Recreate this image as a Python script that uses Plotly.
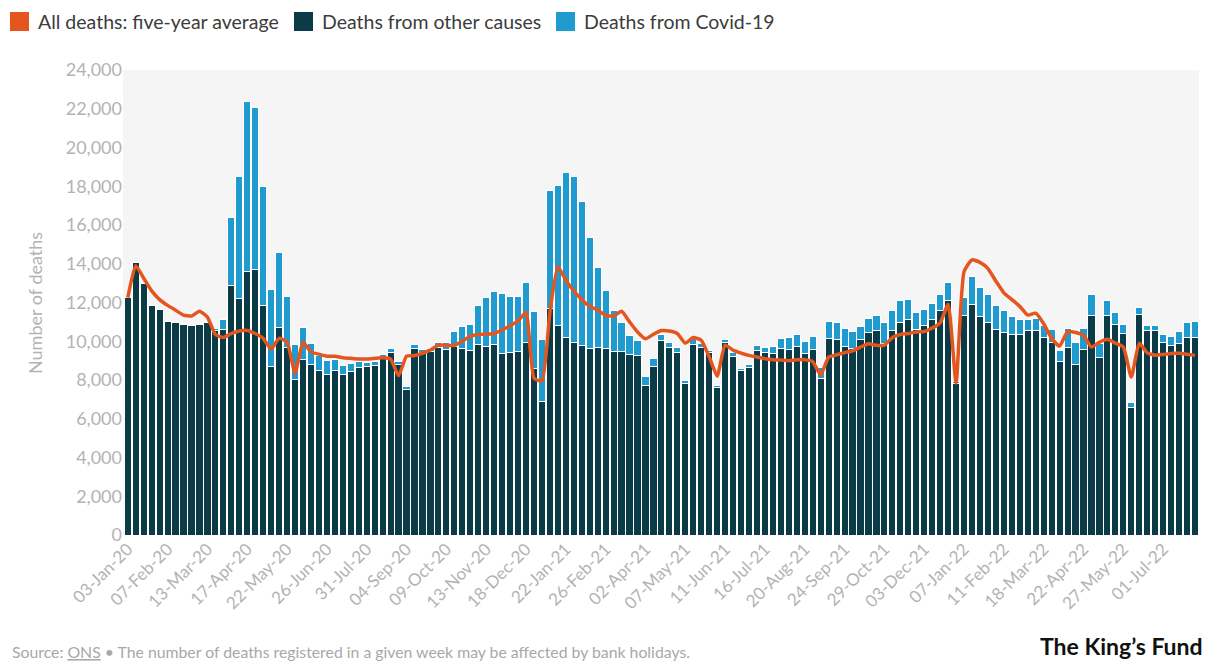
import pandas as pd
import plotly.graph_objects as go

# Weekly registrations, England and Wales, week ending 03-Jan-20 onwards
WEEK_ENDING = pd.date_range("2020-01-03", periods=135, freq="7D").strftime("%d-%b-%y").tolist()

TICK_LABELS = [
    "03-Jan-20", "07-Feb-20", "13-Mar-20", "17-Apr-20", "22-May-20", "26-Jun-20",
    "31-Jul-20", "04-Sep-20", "09-Oct-20", "13-Nov-20", "18-Dec-20", "22-Jan-21",
    "26-Feb-21", "02-Apr-21", "07-May-21", "11-Jun-21", "16-Jul-21", "20-Aug-21",
    "24-Sep-21", "29-Oct-21", "03-Dec-21", "07-Jan-22", "11-Feb-22", "18-Mar-22",
    "22-Apr-22", "27-May-22", "01-Jul-22",
]

OTHER_CAUSES = [
    12250, 14070, 12980, 11860, 11620, 11000, 10960, 10860, 10820, 10890,
    10960, 10550, 10600, 12870, 12230, 13590, 13720, 11860, 8720, 10720,
    9700, 8020, 9070, 8820, 8510, 8300, 8500, 8290, 8460, 8660,
    8700, 8750, 9170, 9430, 8800, 7520, 9640, 9410, 9490, 9660,
    9550, 9750, 9640, 9500, 9840, 9740, 9810, 9380, 9430, 9470,
    9940, 8590, 6890, 11680, 10790, 10190, 9960, 9800, 9650, 9700,
    9620, 9470, 9450, 9340, 9250, 7740, 8690, 10040, 9680, 9440,
    7800, 9810, 9680, 9440, 7600, 9950, 9230, 8490, 8660, 9510,
    9430, 9370, 9650, 9600, 9720, 9380, 9570, 8060, 10120, 10110,
    9740, 9640, 10100, 10450, 10530, 9880, 10530, 10980, 11100, 10630,
    10790, 11140, 11600, 12120, 7820, 11310, 11910, 11270, 10960, 10620,
    10450, 10360, 10360, 10530, 10530, 10190, 9930, 8930, 9670, 8810,
    9580, 11310, 9150, 11310, 10880, 10410, 6560, 11400, 10570, 10570,
    9960, 9760, 9880, 10190, 10190,
]

COVID = [
    0, 0, 0, 0, 0, 0, 0, 0, 0, 0,
    0, 100, 540, 3530, 6290, 8810, 8330, 6130, 3930, 3870,
    2600, 1820, 1650, 1080, 750, 700, 540, 440, 380, 280,
    200, 200, 170, 180, 150, 130, 190, 150, 150, 280,
    380, 770, 1100, 1380, 1990, 2520, 2740, 3070, 2860, 2830,
    3080, 2960, 3190, 6100, 7270, 8510, 8520, 7420, 5720, 4110,
    2980, 2100, 1530, 970, 780, 460, 410, 320, 250, 250,
    150, 320, 180, 100, 140, 140, 180, 110, 140, 250,
    270, 350, 470, 570, 640, 630, 670, 570, 880, 880,
    920, 850, 670, 710, 780, 1100, 1040, 1110, 1030, 870,
    860, 830, 800, 920, 120, 950, 1420, 1510, 1440, 1240,
    1120, 910, 780, 610, 640, 600, 690, 570, 980, 1120,
    1070, 1120, 740, 780, 600, 470, 260, 340, 260, 260,
    400, 460, 600, 770, 810,
]

FIVE_YEAR_AVERAGE = [
    12250, 13900, 13250, 12600, 12150, 11850, 11600, 11350, 11300, 11550,
    11250, 10350, 10200, 10400, 10530, 10560, 10400, 10150, 9600, 10150,
    9950, 8350, 9950, 9450, 9330, 9230, 9230, 9150, 9120, 9090,
    9090, 9120, 9150, 9080, 8220, 9230, 9260, 9380, 9550, 9800,
    9790, 9780, 10000, 10250, 10350, 10360, 10400, 10580, 10800, 11050,
    11480, 8100, 7950, 11500, 13850, 13150, 12600, 12150, 11800, 11620,
    11330, 11300, 11550, 11000, 10480, 10130, 10360, 10550, 10530, 10400,
    9900, 10190, 10050, 9200, 8200, 9800, 9540, 9390, 9270, 9190,
    9100, 9050, 9030, 9000, 9040, 9050, 8950, 8260, 9180, 9300,
    9410, 9510, 9700, 9870, 9790, 9800, 10190, 10350, 10400, 10480,
    10500, 10680, 10950, 11900, 7850, 13600, 14200, 14070, 13750, 13100,
    12500, 12150, 11800, 11350, 11450, 10900, 10150, 9750, 10500, 10450,
    10300, 9700, 9950, 10100, 9900, 9700, 8150, 9900, 9400, 9280,
    9320, 9370, 9380, 9330, 9270,
]

ORANGE = "#e4561e"
DARK = "#0b3b47"
BLUE = "#1f9bd0"
GREY_TEXT = "#b3b3b3"
FONT = "Source Sans Pro, Lato, sans-serif"

W, H = 1209, 661
L, R, T, B = 123, 10, 70, 126
PW, PH = W - L - R, H - T - B


def px(x):
    return (x - L) / PW


def py(y):
    return (H - B - y) / PH


fig = go.Figure()
fig.add_trace(go.Bar(
    x=WEEK_ENDING, y=OTHER_CAUSES, name="Deaths from other causes",
    marker=dict(color=DARK, line=dict(color="white", width=1)),
    showlegend=False, hoverinfo="skip",
))
fig.add_trace(go.Bar(
    x=WEEK_ENDING, y=COVID, name="Deaths from Covid-19",
    marker=dict(color=BLUE, line=dict(color="white", width=1)),
    showlegend=False, hoverinfo="skip",
))
fig.add_trace(go.Scatter(
    x=WEEK_ENDING, y=FIVE_YEAR_AVERAGE, name="All deaths: five-year average",
    mode="lines", line=dict(color=ORANGE, width=3.5, shape="spline", smoothing=0.5),
    showlegend=False, hoverinfo="skip",
))

# legend row across the top
legend_items = [
    (10, ORANGE, "All deaths: five-year average"),
    (294, DARK, "Deaths from other causes"),
    (556, BLUE, "Deaths from Covid-19"),
]
shapes = []
annotations = []
for x0, colour, label in legend_items:
    shapes.append(dict(type="rect", xref="paper", yref="paper",
                       x0=px(x0), x1=px(x0 + 19), y0=py(31), y1=py(12),
                       fillcolor=colour, line=dict(width=0)))
    annotations.append(dict(text=label, xref="paper", yref="paper",
                            x=px(x0 + 26), y=py(21.5), xanchor="left", yanchor="middle",
                            showarrow=False, font=dict(family=FONT, size=19.5, color="#3c3c3c")))

annotations += [
    dict(text="Number of deaths", xref="paper", yref="paper", x=px(35), y=py(303),
         textangle=-90, xanchor="center", yanchor="middle", showarrow=False,
         font=dict(family=FONT, size=18, color=GREY_TEXT)),
    dict(text="Source: <u>ONS</u> \u2022 The number of deaths registered in a given week may be affected by bank holidays.",
         xref="paper", yref="paper", x=px(10), y=py(652), xanchor="left", yanchor="middle",
         showarrow=False, font=dict(family=FONT, size=15.8, color="#a8a8a8")),
    dict(text="<b>The King\u2019s Fund</b>", xref="paper", yref="paper", x=px(1205), y=py(646),
         xanchor="right", yanchor="middle", showarrow=False,
         font=dict(family=FONT, size=23, color="#111111")),
]

fig.update_layout(
    width=W, height=H,
    margin=dict(l=L, r=R, t=T, b=B),
    barmode="stack", bargap=0.1,
    plot_bgcolor="#f5f5f5", paper_bgcolor="white",
    shapes=shapes, annotations=annotations,
    font=dict(family=FONT),
    xaxis=dict(type="category", tickmode="array", tickvals=TICK_LABELS, ticktext=TICK_LABELS,
               tickangle=-45, tickfont=dict(size=17, color=GREY_TEXT),
               showgrid=False, showline=False, zeroline=False, ticks="",
               range=[-0.6, 134.5]),
    yaxis=dict(range=[0, 24000], dtick=2000, tickformat=",",
               tickfont=dict(size=18, color=GREY_TEXT),
               showgrid=False, zeroline=False, showline=False, ticks=""),
)

fig.write_html("out.html")
